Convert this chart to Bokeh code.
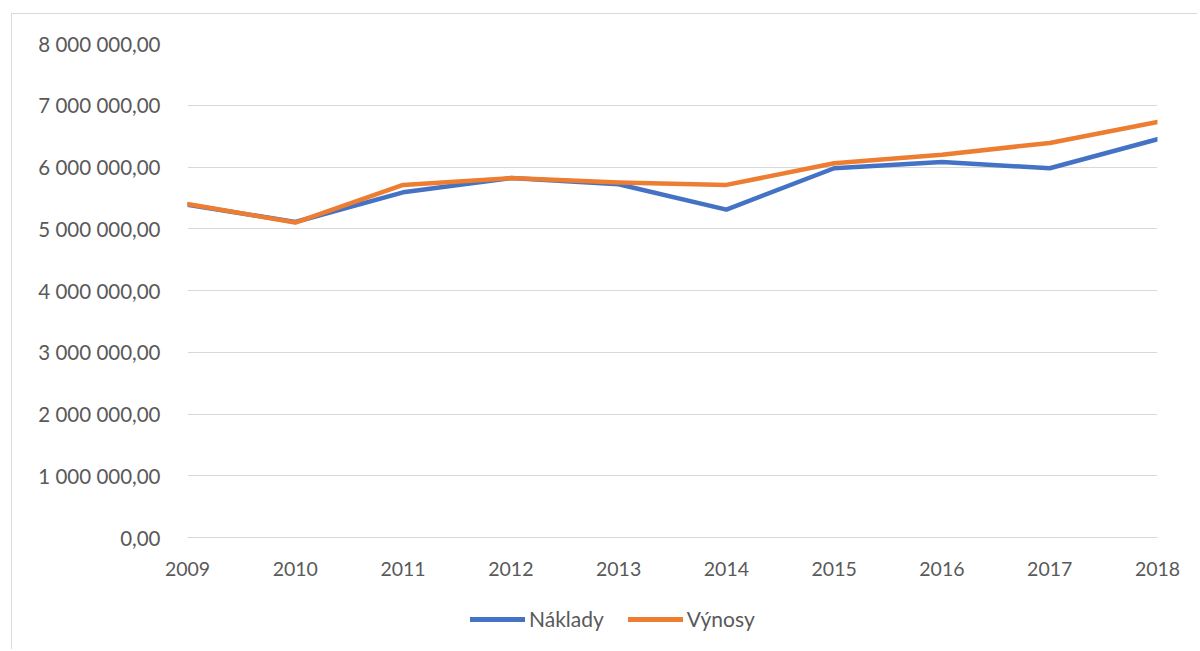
from bokeh.plotting import figure
from bokeh.models import FixedTicker, Legend, LegendItem, Range1d
from bokeh.layouts import column
from bokeh.embed import file_html
from bokeh.resources import INLINE

years = [2009, 2010, 2011, 2012, 2013, 2014, 2015, 2016, 2017, 2018]
naklady = [5390000, 5110000, 5590000, 5820000, 5720000, 5310000, 5980000, 6080000, 5980000, 6450000]
vynosy = [5400000, 5100000, 5710000, 5820000, 5750000, 5710000, 6060000, 6200000, 6390000, 6730000]
y_ticks = [0, 1000000, 2000000, 3000000, 4000000, 5000000, 6000000, 7000000, 8000000]
y_labels = ["0,00", "1 000 000,00", "2 000 000,00", "3 000 000,00", "4 000 000,00",
            "5 000 000,00", "6 000 000,00", "7 000 000,00", "8 000 000,00"]
series_names = ["Náklady", "Výnosy"]
series_colors = ["#4472C4", "#ED7D31"]

FONT = "Lato"
TXT = "#595959"
GRID = "#d9d9d9"
W = 1185

p = figure(width=W, height=585, output_backend="svg", toolbar_location=None,
           x_range=Range1d(2009, 2018), y_range=Range1d(0, 8000000),
           min_border_left=175, min_border_right=40, min_border_top=29, min_border_bottom=62)
p.outline_line_color = None

for vals, c in zip([naklady, vynosy], series_colors):
    p.line(years, vals, line_color=c, line_width=4.5, line_join="round", line_cap="round")

p.yaxis.ticker = FixedTicker(ticks=y_ticks)
p.yaxis.major_label_overrides = {t: l for t, l in zip(y_ticks, y_labels)}
p.yaxis.axis_line_color = None
p.yaxis.major_tick_line_color = None
p.yaxis.minor_tick_line_color = None
p.yaxis.major_label_standoff = 21
p.yaxis.major_label_text_font = FONT
p.yaxis.major_label_text_font_size = "20.5px"
p.yaxis.major_label_text_color = TXT

p.xaxis.ticker = FixedTicker(ticks=years)
p.xaxis.major_label_overrides = {y: str(y) for y in years}
p.xaxis.axis_line_color = GRID
p.xaxis.major_tick_line_color = None
p.xaxis.minor_tick_line_color = None
p.xaxis.major_label_standoff = 18
p.xaxis.major_label_text_font = FONT
p.xaxis.major_label_text_font_size = "19.5px"
p.xaxis.major_label_text_color = TXT

p.xgrid.grid_line_color = None
p.ygrid.grid_line_color = GRID
p.ygrid.grid_line_width = 1

# legend strip below the chart (same series, drawn out of view; only the legend shows)
lf = figure(width=W, height=50, output_backend="svg", toolbar_location=None,
            x_range=Range1d(0, 1), y_range=Range1d(0, 1),
            x_axis_location=None, y_axis_location=None,
            min_border_left=0, min_border_right=0, min_border_top=0, min_border_bottom=0)
lf.outline_line_color = None
lf.grid.visible = False
items = []
for name, vals, c in zip(series_names, [naklady, vynosy], series_colors):
    r = lf.line(years, vals, line_color=c, line_width=5, line_cap="round")
    items.append(LegendItem(label=name, renderers=[r]))
legend = Legend(items=items, orientation="horizontal", location=(283, 18))
legend.glyph_width = 55
legend.glyph_height = 20
legend.label_standoff = 4
legend.spacing = 24
legend.padding = 4
legend.margin = 0
legend.border_line_color = None
legend.background_fill_alpha = 0
legend.label_text_font = FONT
legend.label_text_font_size = "21px"
legend.label_text_color = TXT
lf.add_layout(legend, "center")

layout = column(p, lf, spacing=0)
layout.styles = {"margin-left": "11px", "margin-top": "13px",
                 "border-left": "1px solid #d9d9d9", "border-top": "1px solid #d9d9d9"}

open("out.html", "w").write(file_html(layout, INLINE))
